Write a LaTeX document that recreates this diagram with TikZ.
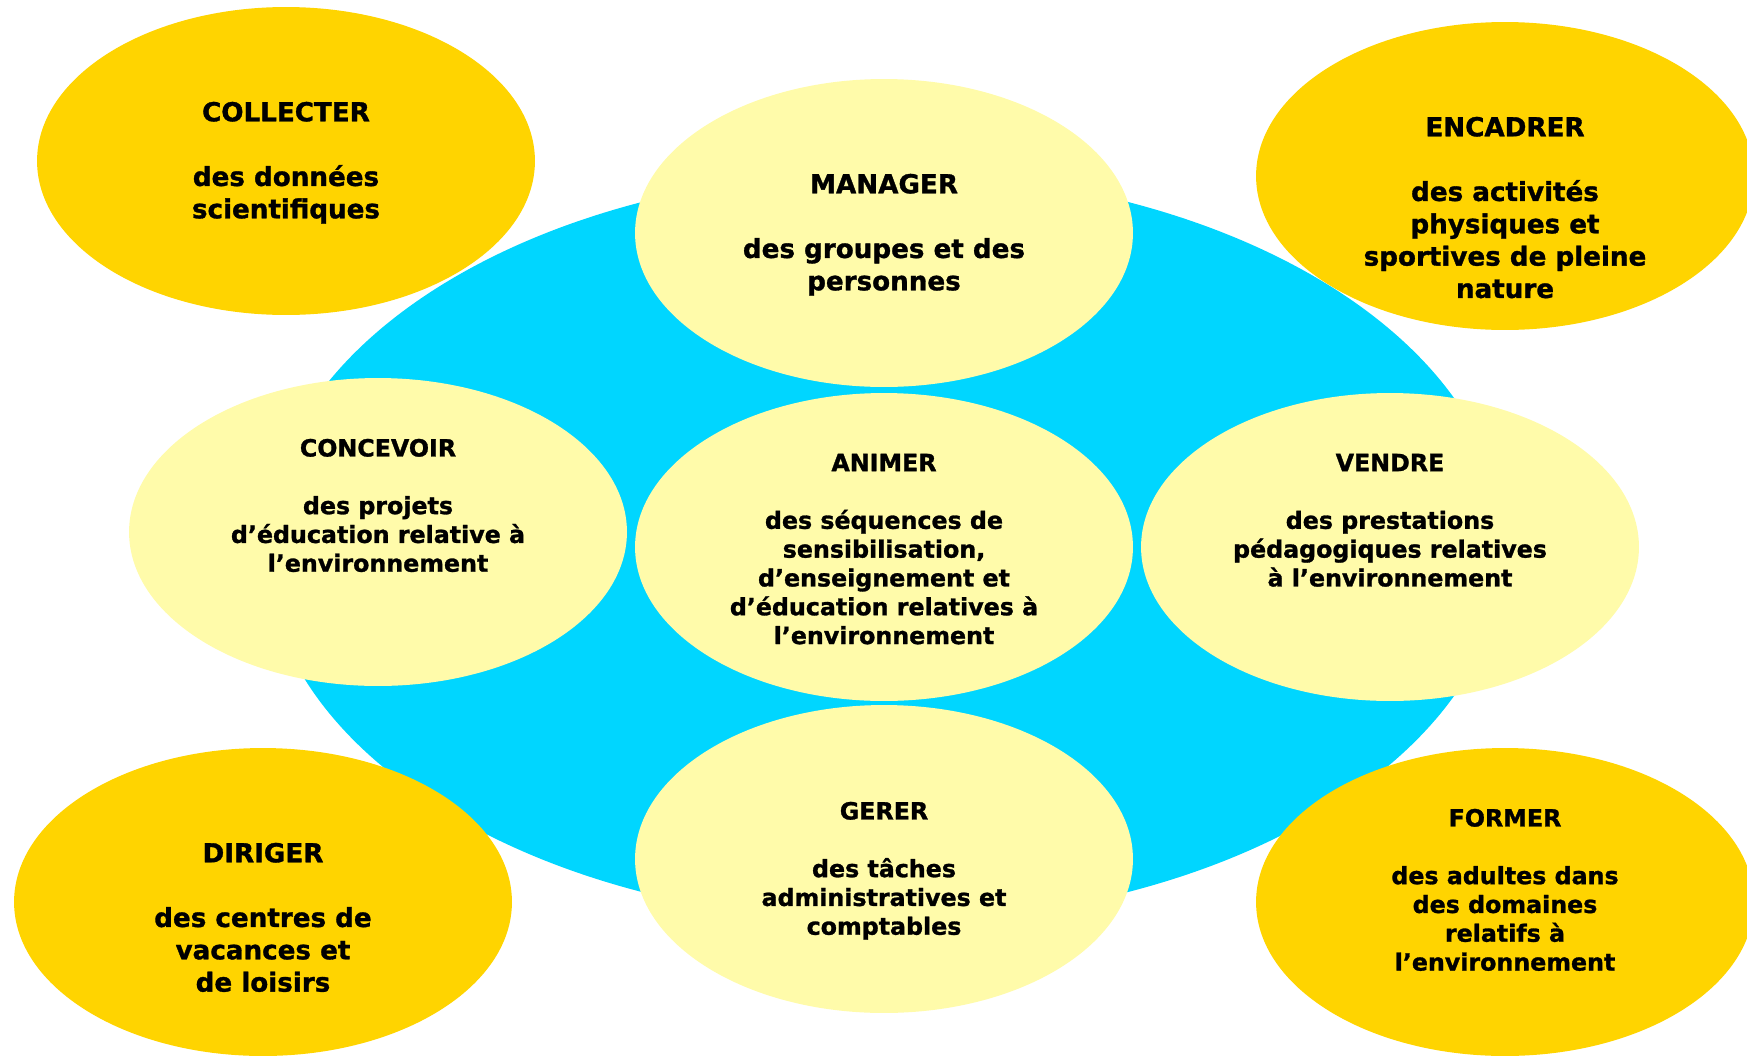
\documentclass[tikz,border=0pt]{standalone}
\usepackage{fontspec}
\setmainfont{DejaVu Sans}[BoldFeatures={FakeBold=1.2}]
\usetikzlibrary{shapes.geometric}

\definecolor{gold}{RGB}{255,212,0}
\definecolor{cream}{RGB}{255,251,170}
\definecolor{sky}{RGB}{0,214,255}
\newcommand{\blankline}{\\[\baselineskip]}

\begin{document}
\begin{tikzpicture}[x=0.02cm, y=-0.02cm,
    bubble/.style={ellipse, inner sep=0pt, minimum width=9.96cm, minimum height=6.16cm},
    outer/.style={bubble, fill=gold},
    inner/.style={bubble, fill=cream},
    bigtext/.style={anchor=north, align=center, inner sep=0pt, font=\fontsize{14.9}{18.4}\selectfont\bfseries},
    smalltext/.style={anchor=north, align=center, inner sep=0pt, font=\fontsize{13.5}{16.4}\selectfont\bfseries}]
            \useasboundingbox (0,0) rectangle (1747,1055);
            \clip (0,0) rectangle (1747,1055);
            % the pond behind
            \fill [sky] (885,547) ellipse (12.4cm and 7.5cm);
            % outer ring
            \node[outer] (collecter) at (286,161) {};
            \node[outer] (encadrer) at (1505,176) {};
            \node[outer] (diriger) at (263,902) {};
            \node[outer] (former) at (1505,902) {};
            % inner cross
            \node[inner] (manager) at (884,233) {};
            \node[inner] (concevoir) at (378,532) {};
            \node[inner] (animer) at (884,547) {};
            \node[inner] (vendre) at (1390,547) {};
            \node[inner] (gerer) at (884,859) {};
            % labels
            \node[bigtext] (collecter-t) at ([yshift=1.19cm]collecter.center) {COLLECTER\blankline des données\\scientifiques};
            \node[bigtext] (encadrer-t) at ([yshift=1.19cm]encadrer.center) {ENCADRER\blankline des activités\\physiques et\\sportives de pleine\\nature};
            \node[bigtext] (diriger-t) at ([yshift=1.19cm]diriger.center) {DIRIGER\blankline des centres de\\vacances et\\de loisirs};
            \node[smalltext] (former-t) at ([yshift=1.87cm]former.center) {FORMER\blankline des adultes dans\\des domaines\\relatifs à\\l’environnement};
            \node[bigtext] (manager-t) at ([yshift=1.19cm]manager.center) {MANAGER\blankline des groupes et des\\personnes};
            \node[smalltext] (concevoir-t) at ([yshift=1.87cm]concevoir.center) {CONCEVOIR\blankline des projets\\d’éducation relative à\\l’environnement};
            \node[smalltext] (animer-t) at ([yshift=1.87cm]animer.center) {ANIMER\blankline des séquences de\\sensibilisation,\\d’enseignement et\\d’éducation relatives à\\l’environnement};
            \node[smalltext] (vendre-t) at ([yshift=1.87cm]vendre.center) {VENDRE\blankline des prestations\\pédagogiques relatives\\à l’environnement};
            \node[smalltext] (gerer-t) at ([yshift=1.15cm]gerer.center) {GERER\blankline des tâches\\administratives et\\comptables};
        \end{tikzpicture}
\end{document}
